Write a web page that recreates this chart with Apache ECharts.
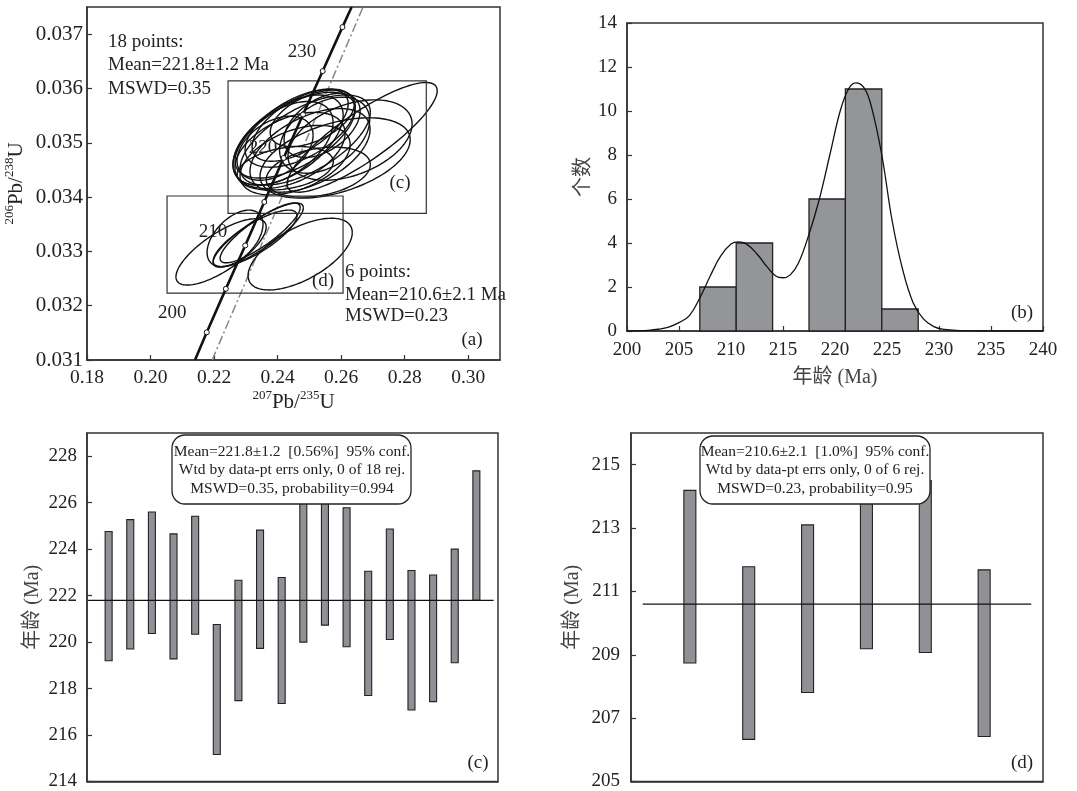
<!DOCTYPE html>
<html><head><meta charset="utf-8">
<script src="https://cdn.jsdelivr.net/npm/echarts@6/dist/echarts.min.js"></script>
<style>html,body{margin:0;padding:0;background:#fff}#c{width:1077px;height:791px}</style>
</head><body><div id="c"></div>
<script>
// ---------- Panel (a): concordia ----------
const concordiaAges = [null, 200, 205, 210, 215, 220, 225, 230, 235, null];
const concordiaX = [0.2140, 0.2177, 0.2237, 0.2298, 0.2358, 0.2419, 0.2480, 0.2542, 0.2604, 0.2633];
const concordiaY = [0.0310, 0.03151, 0.03231, 0.03311, 0.03391, 0.03472, 0.03552, 0.03632, 0.03713, 0.0375];
const refLineX = [0.2194, 0.2669];
const refLineY = [0.0310, 0.0375];
const ageLabels = ['200', '210', '220', '230'];
const ageLabelX = [0.2068, 0.2197, 0.2354, 0.2477];
const ageLabelY = [0.03186, 0.03336, 0.03490, 0.03667];
// ellipses: [centre x, centre y, half width x, half height y, correlation]
const ellipsesC = [
  [0.2666, 0.03510, 0.02363, 0.00101, 0.85],
  [0.2628, 0.03505, 0.01953, 0.00074, 0.40],
  [0.2581, 0.03472, 0.02363, 0.00074, 0.45],
  [0.2471, 0.03527, 0.01733, 0.00072, 0.55],
  [0.2455, 0.03514, 0.01890, 0.00079, 0.60],
  [0.2433, 0.03505, 0.01733, 0.00083, 0.55],
  [0.2417, 0.03499, 0.01575, 0.00077, 0.50],
  [0.2439, 0.03486, 0.01733, 0.00070, 0.45],
  [0.2471, 0.03532, 0.01512, 0.00066, 0.60],
  [0.2487, 0.03505, 0.02048, 0.00083, 0.62],
  [0.2392, 0.03490, 0.01197, 0.00059, 0.40],
  [0.2509, 0.03545, 0.01323, 0.00052, 0.50],
  [0.2502, 0.03486, 0.01890, 0.00077, 0.50],
  [0.2548, 0.03514, 0.01418, 0.00070, 0.40],
  [0.2424, 0.03453, 0.01512, 0.00040, 0.30],
  [0.2528, 0.03446, 0.01638, 0.00046, 0.30],
  [0.2455, 0.03468, 0.01733, 0.00064, 0.45],
  [0.2540, 0.03532, 0.01197, 0.00059, 0.45]
];
const ellipsesD = [
  [0.2222, 0.03299, 0.0142, 0.00061, 0.75],
  [0.2471, 0.03295, 0.0164, 0.00066, 0.60],
  [0.2339, 0.03330, 0.0142, 0.00059, 0.85],
  [0.2345, 0.03334, 0.0126, 0.00055, 0.85],
  [0.2329, 0.03324, 0.0132, 0.00052, 0.80],
  [0.2266, 0.03324, 0.0088, 0.00052, 0.50]
];
const boxC = [0.2244, 0.03370, 0.2868, 0.03614];
const boxD = [0.2052, 0.03223, 0.2606, 0.03402];

// ---------- Panel (b): histogram ----------
const binStart = [207.0, 210.5, 217.5, 221.0, 224.5];
const binEnd   = [210.5, 214.0, 221.0, 224.5, 228.0];
const binCount = [2, 4, 6, 11, 1];
const curveAge = [200, 201, 202, 203, 204, 205, 206, 207, 208, 209, 210, 210.7, 211.5, 212.5, 213.5, 214.3, 215, 215.7, 216.5, 217.5, 218.5, 219.5, 220.5, 221.3, 222, 222.8, 223.5, 224.5, 225.5, 226.5, 227.5, 228.5, 229.5, 230.5, 232, 234, 237, 240];
const curveVal = [0, 0.01, 0.03, 0.08, 0.18, 0.38, 0.7, 1.5, 2.5, 3.4, 3.95, 4.05, 3.95, 3.5, 2.9, 2.5, 2.42, 2.55, 3.1, 4.4, 6.0, 8.0, 10.0, 11.0, 11.28, 11.05, 10.2, 8.0, 5.0, 2.8, 1.3, 0.55, 0.2, 0.07, 0.02, 0.0, 0, 0];

// ---------- Panel (c) ----------
const lowC  = [219.2, 219.7, 220.37, 219.28, 220.34, 215.16, 217.48, 219.73, 217.36, 220.0, 220.73, 219.8, 217.7, 220.11, 217.08, 217.44, 219.11, 221.8];
const highC = [224.76, 225.27, 225.6, 224.66, 225.42, 220.76, 222.66, 224.82, 222.78, 226.5, 226.3, 225.78, 223.05, 224.87, 223.08, 222.89, 224.0, 227.37];
const meanC = 221.8;
const textC = ['Mean=221.8±1.2  [0.56%]  95% conf.', 'Wtd by data-pt errs only, 0 of 18 rej.', 'MSWD=0.35, probability=0.994'];

// ---------- Panel (d) ----------
const lowD  = [208.74, 206.33, 207.81, 209.19, 209.07, 206.42];
const highD = [214.19, 211.78, 213.1, 214.6, 214.5, 211.68];
const meanD = 210.6;
const textD = ['Mean=210.6±2.1  [1.0%]  95% conf.', 'Wtd by data-pt errs only, 0 of 6 rej.', 'MSWD=0.23, probability=0.95'];

const SERIF = "'Liberation Serif', 'Times New Roman', serif";
const CJK = "'Liberation Serif', 'Noto Sans CJK SC', serif";
const dark = '#222';

function axisBase(extra) {
  return Object.assign({
    type: 'value',
    axisLine: { show: true, lineStyle: { color: '#333', width: 1.5 } },
    axisTick: { show: true, inside: true, length: 5, lineStyle: { color: '#333', width: 1.2 } },
    splitLine: { show: false },
    axisLabel: { fontFamily: SERIF, fontSize: 19, color: dark, showMaxLabel: false }
  }, extra);
}

function renderEllipse(params, api) {
  const cx = api.value(0), cy = api.value(1), hx = api.value(2), hy = api.value(3), r = api.value(4);
  const s = Math.sqrt(1 - r * r);
  const pts = [];
  for (let i = 0; i <= 120; i++) {
    const t = i / 120 * 2 * Math.PI;
    pts.push(api.coord([cx + hx * Math.cos(t), cy + hy * (r * Math.cos(t) + s * Math.sin(t))]));
  }
  return { type: 'polyline', shape: { points: pts }, style: { fill: 'none', stroke: '#111', lineWidth: 1.4 } };
}
function renderBox(params, api) {
  const a = api.coord([api.value(0), api.value(3)]);
  const b = api.coord([api.value(2), api.value(1)]);
  return { type: 'rect', shape: { x: a[0], y: a[1], width: b[0] - a[0], height: b[1] - a[1] }, style: { fill: 'none', stroke: '#333', lineWidth: 1.2 } };
}
function renderAgeLabel(params, api) {
  const p = api.coord([api.value(0), api.value(1)]);
  return { type: 'text', x: p[0], y: p[1], style: { text: ageLabels[params.dataIndex], fontFamily: SERIF, fontSize: 19, fill: dark, align: 'center', verticalAlign: 'middle' } };
}
function makeErrRender(w) {
  return function (params, api) {
    const a = api.coord([api.value(0), api.value(2)]);
    const b = api.coord([api.value(0), api.value(1)]);
    return { type: 'rect', shape: { x: a[0] - w / 2, y: a[1], width: w, height: b[1] - a[1] }, style: { fill: '#909196', stroke: '#222', lineWidth: 1.1 } };
  };
}

const concordiaData = concordiaX.map((x, i) => ({ value: [x, concordiaY[i]], symbol: concordiaAges[i] == null ? 'none' : 'circle' }));
const supRich = {
  b: { fontFamily: SERIF, fontSize: 21, color: dark, lineHeight: 24, verticalAlign: 'bottom' },
  s: { fontFamily: SERIF, fontSize: 13, color: dark, lineHeight: 24, verticalAlign: 'top' }
};

const chart = echarts.init(document.getElementById('c'), null, { renderer: 'canvas' });
const gridStyle = { show: true, borderColor: '#333', borderWidth: 1.5, backgroundColor: 'transparent' };

function txt(x, y, text, align, size, z) {
  return { type: 'text', x: x, y: y, z: z || 50, style: { text: text, fontFamily: SERIF, fontSize: size || 19, fill: dark, textAlign: align || 'left', textVerticalAlign: 'middle' } };
}

const option = {
  animation: false,
  backgroundColor: '#fff',
  grid: [
    Object.assign({ left: 87, right: 577, top: 7, bottom: 431 }, gridStyle),
    Object.assign({ left: 627, right: 34, top: 23, bottom: 460 }, gridStyle),
    Object.assign({ left: 87, right: 579, top: 433, bottom: 8 }, gridStyle),
    Object.assign({ left: 631, right: 34, top: 433, bottom: 8 }, gridStyle)
  ],
  xAxis: [
    axisBase({ gridIndex: 0, min: 0.18, max: 0.31, interval: 0.02,
      axisLabel: { fontFamily: SERIF, fontSize: 19.5, color: dark, showMaxLabel: false, margin: 8, formatter: v => v.toFixed(2) },
      name: '{s|207}{b|Pb/}{s|235}{b|U}', nameLocation: 'middle', nameGap: 25, nameTextStyle: { rich: supRich } }),
    axisBase({ gridIndex: 1, min: 200, max: 240, interval: 5,
      axisLabel: { fontFamily: SERIF, fontSize: 19, color: dark, margin: 10 },
      name: '年龄 (Ma)', nameLocation: 'middle', nameGap: 37, nameTextStyle: { fontFamily: CJK, fontSize: 20, color: '#444', verticalAlign: 'top' } }),
    axisBase({ gridIndex: 2, min: 0, max: 19, axisLabel: { show: false }, axisTick: { show: false } }),
    axisBase({ gridIndex: 3, min: 0, max: 7, axisLabel: { show: false }, axisTick: { show: false } })
  ],
  yAxis: [
    axisBase({ gridIndex: 0, min: 0.031, max: 0.0375, interval: 0.001,
      axisLabel: { fontFamily: SERIF, fontSize: 21, color: dark, showMaxLabel: false, margin: 4, formatter: v => v.toFixed(3) },
      name: '{s|206}{b|Pb/}{s|238}{b|U}', nameLocation: 'middle', nameRotate: 90, nameGap: 60, nameTextStyle: { rich: supRich } }),
    axisBase({ gridIndex: 1, min: 0, max: 14, interval: 2,
      axisLabel: { fontFamily: SERIF, fontSize: 19, color: dark, margin: 10 },
      name: '个数', nameLocation: 'middle', nameRotate: 90, nameGap: 32, nameTextStyle: { fontFamily: CJK, fontSize: 20, color: '#444' } }),
    axisBase({ gridIndex: 2, min: 214, max: 229, interval: 2,
      axisLabel: { fontFamily: SERIF, fontSize: 19, color: dark, showMaxLabel: false, margin: 10 },
      name: '年龄 (Ma)', nameLocation: 'middle', nameRotate: 90, nameGap: 44, nameTextStyle: { fontFamily: CJK, fontSize: 20, color: '#444' } }),
    axisBase({ gridIndex: 3, min: 205, max: 216, interval: 2,
      axisLabel: { fontFamily: SERIF, fontSize: 19, color: dark, showMaxLabel: false, margin: 11 },
      name: '年龄 (Ma)', nameLocation: 'middle', nameRotate: 90, nameGap: 48, nameTextStyle: { fontFamily: CJK, fontSize: 20, color: '#444' } })
  ],
  series: [
    // (a)
    { type: 'line', xAxisIndex: 0, yAxisIndex: 0, data: [[refLineX[0], refLineY[0]], [refLineX[1], refLineY[1]]], symbol: 'none',
      lineStyle: { color: '#888', width: 1.5, type: [9, 3, 2, 3] }, z: 2 },
    { type: 'custom', xAxisIndex: 0, yAxisIndex: 0, data: ellipsesC.concat(ellipsesD), renderItem: renderEllipse, z: 3 },
    { type: 'custom', xAxisIndex: 0, yAxisIndex: 0, data: [boxC, boxD], renderItem: renderBox, z: 3 },
    { type: 'line', xAxisIndex: 0, yAxisIndex: 0, data: concordiaData, symbolSize: 5,
      itemStyle: { color: '#fff', borderColor: '#111', borderWidth: 1 },
      lineStyle: { color: '#111', width: 2.6 }, z: 4 },
    { type: 'custom', xAxisIndex: 0, yAxisIndex: 0, data: ageLabelX.map((x, i) => [x, ageLabelY[i]]), renderItem: renderAgeLabel, z: 5 },
    // (b)
    { type: 'custom', xAxisIndex: 1, yAxisIndex: 1,
      data: binStart.map((s, i) => [s, binEnd[i], binCount[i]]), encode: { x: [0, 1], y: 2 },
      renderItem: function (params, api) {
        const a = api.coord([api.value(0), api.value(2)]);
        const b = api.coord([api.value(1), 0]);
        return { type: 'rect', shape: { x: a[0], y: a[1], width: b[0] - a[0], height: b[1] - a[1] }, style: { fill: '#939598', stroke: '#222', lineWidth: 1.3 } };
      }, z: 2 },
    { type: 'line', xAxisIndex: 1, yAxisIndex: 1, data: curveAge.map((a, i) => [a, curveVal[i]]), symbol: 'none', smooth: 0.4,
      lineStyle: { color: '#111', width: 1.3 }, z: 3 },
    // (c)
    { type: 'custom', xAxisIndex: 2, yAxisIndex: 2, data: lowC.map((l, i) => [i + 1, l, highC[i]]), encode: { x: 0, y: [1, 2] },
      renderItem: makeErrRender(7), z: 2 },
    { type: 'line', xAxisIndex: 2, yAxisIndex: 2, data: [[0.05, meanC], [18.8, meanC]], symbol: 'none', lineStyle: { color: '#111', width: 1.2 }, z: 3 },
    // (d)
    { type: 'custom', xAxisIndex: 3, yAxisIndex: 3, data: lowD.map((l, i) => [i + 1, l, highD[i]]), encode: { x: 0, y: [1, 2] },
      renderItem: makeErrRender(12), z: 2 },
    { type: 'line', xAxisIndex: 3, yAxisIndex: 3, data: [[0.2, meanD], [6.8, meanD]], symbol: 'none', lineStyle: { color: '#111', width: 1.2 }, z: 3 }
  ],
  graphic: [
    txt(108, 42, '18 points:'), txt(108, 65, 'Mean=221.8±1.2 Ma'), txt(108, 89, 'MSWD=0.35'),
    txt(345, 272, '6 points:'), txt(345, 295, 'Mean=210.6±2.1 Ma'), txt(345, 316, 'MSWD=0.23'),
    txt(472, 340, '(a)', 'center'), txt(400, 183, '(c)', 'center'), txt(323, 281, '(d)', 'center'),
    txt(1022, 313, '(b)', 'center'),
    txt(478, 763, '(c)', 'center'), txt(1022, 763, '(d)', 'center'),
    { type: 'rect', z: 100, shape: { x: 172, y: 435, width: 239, height: 69, r: 13 }, style: { fill: '#fff', stroke: '#222', lineWidth: 1.3 } },
    txt(292, 452, textC[0], 'center', 15.5, 101), txt(292, 470, textC[1], 'center', 15.5, 101), txt(292, 489, textC[2], 'center', 15.5, 101),
    { type: 'rect', z: 100, shape: { x: 700, y: 436, width: 230, height: 68, r: 13 }, style: { fill: '#fff', stroke: '#222', lineWidth: 1.3 } },
    txt(815, 452, textD[0], 'center', 15.5, 101), txt(815, 470, textD[1], 'center', 15.5, 101), txt(815, 489, textD[2], 'center', 15.5, 101)
  ]
};
chart.setOption(option);
</script></body></html>
